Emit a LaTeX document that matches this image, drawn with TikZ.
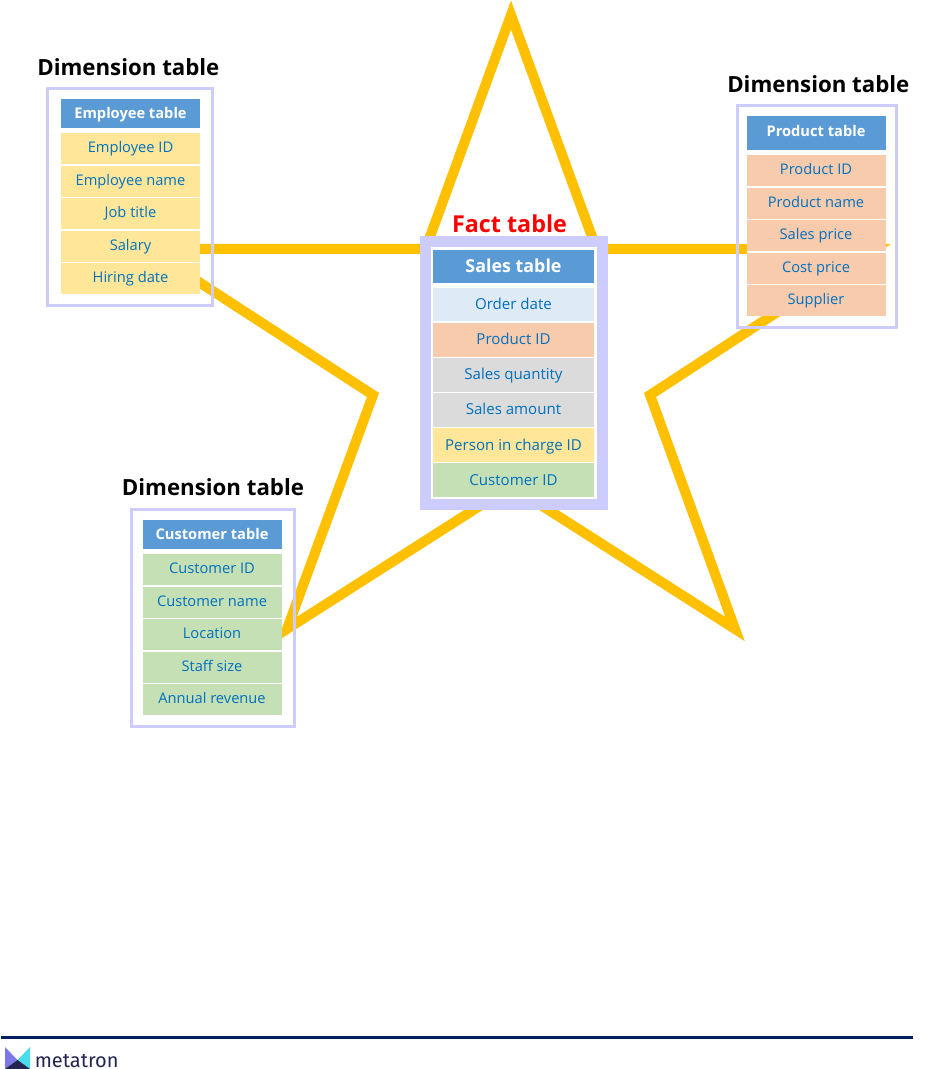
\documentclass[tikz,border=0pt]{standalone}
\usepackage{fontspec}
\usepackage{xcolor}
\usetikzlibrary{positioning,fit,backgrounds}
\setmainfont{Open Sans}
\newfontfamily\logofont{Fira Sans}
\definecolor{frameblue}{RGB}{204, 204, 255}
\definecolor{headerblue}{RGB}{91, 155, 213}
\definecolor{textblue}{RGB}{0, 112, 192}
\definecolor{staryellow}{RGB}{255, 192, 0}
\definecolor{rowyellow}{RGB}{255, 230, 153}
\definecolor{roworange}{RGB}{248, 203, 173}
\definecolor{rowgreen}{RGB}{197, 224, 180}
\definecolor{rowgray}{RGB}{219, 219, 219}
\definecolor{rowlight}{RGB}{222, 234, 246}
\definecolor{footnavy}{RGB}{0, 32, 96}
\definecolor{logopurple}{RGB}{123, 121, 232}
\definecolor{logocyan}{RGB}{74, 220, 235}
\definecolor{logodark}{RGB}{34, 37, 79}

\begin{document}
\begin{tikzpicture}[
    x=0.75pt, y=-0.75pt,
    node distance=1.2pt,
    dimhead/.style={rectangle, minimum width=104.25pt, minimum height=21.75pt, inner sep=0pt, outer sep=0pt, text centered, text height=9.5pt, text depth=1.5pt, fill=headerblue, text=white, font=\fontsize{11}{13}\selectfont\bfseries},
    dimrow/.style={rectangle, minimum width=104.25pt, minimum height=23.25pt, inner sep=0pt, outer sep=0pt, text centered, text height=8.5pt, text depth=2.5pt, text=textblue, font=\fontsize{11}{13}\selectfont},
    facthead/.style={dimhead, minimum width=120.75pt, minimum height=24.75pt, text height=11pt, text depth=2pt, font=\fontsize{13.4}{15}\selectfont\bfseries},
    factrow/.style={dimrow, minimum width=120.75pt, minimum height=25.1pt, text height=9.25pt, text depth=1.75pt, font=\fontsize{11.3}{13}\selectfont},
    backing/.style={rectangle, fill=white, inner sep=0pt},
    dimframe/.style={rectangle, draw=frameblue, line width=2.25pt, inner ysep=8pt},
    factframe/.style={rectangle, draw=frameblue, fill=white, line width=8.25pt, inner sep=6pt},
    tabletitle/.style={inner sep=0pt, font=\fontsize{16.7}{18}\selectfont\bfseries},
    starline/.style={draw=staryellow, line width=7.5pt, line join=miter}
]
\useasboundingbox (0,0) rectangle (928,1069);

% Fact table
\node[facthead] (sales) at (513.5,266.5) {Sales table};
\node[factrow, fill=rowlight, below=3.75pt of sales] (order) {Order date};
\node[factrow, fill=roworange, below=of order] (prod) {Product ID};
\node[factrow, fill=rowgray, below=of prod] (qty) {Sales quantity};
\node[factrow, fill=rowgray, below=of qty] (amount) {Sales amount};
\node[factrow, fill=rowyellow, below=of amount] (person) {Person in charge ID};
\node[factrow, fill=rowgreen, below=of person] (cust) {Customer ID};

% Employee table
\node[dimhead] (emp) at (130.5,113.5) {Employee table};
\node[dimrow, fill=rowyellow, below=3.75pt of emp] (emp1) {Employee ID};
\node[dimrow, fill=rowyellow, below=of emp1] (emp2) {Employee name};
\node[dimrow, fill=rowyellow, below=of emp2] (emp3) {Job title};
\node[dimrow, fill=rowyellow, below=of emp3] (emp4) {Salary};
\node[dimrow, fill=rowyellow, below=of emp4] (emp5) {Hiring date};

% Product table
\node[dimhead, minimum height=25.5pt, text height=8.5pt, text depth=2.5pt] (pro) at (816,133) {Product table};
\node[dimrow, fill=roworange, below=3.75pt of pro] (pro1) {Product ID};
\node[dimrow, fill=roworange, below=of pro1] (pro2) {Product name};
\node[dimrow, fill=roworange, below=of pro2] (pro3) {Sales price};
\node[dimrow, fill=roworange, below=of pro3] (pro4) {Cost price};
\node[dimrow, fill=roworange, below=of pro4] (pro5) {Supplier};

% Customer table
\node[dimhead] (cus) at (212,534.5) {Customer table};
\node[dimrow, fill=rowgreen, below=3.75pt of cus] (cus1) {Customer ID};
\node[dimrow, fill=rowgreen, below=of cus1] (cus2) {Customer name};
\node[dimrow, fill=rowgreen, below=of cus2] (cus3) {Location};
\node[dimrow, fill=rowgreen, below=of cus3] (cus4) {Staff size};
\node[dimrow, fill=rowgreen, below=of cus4] (cus5) {Annual revenue};

% Frames round the tables
\node[dimframe, inner xsep=9.4pt, xshift=-0.4pt, fit=(emp)(emp5)] (empframe) {};
\node[dimframe, inner xsep=7.6pt, xshift=0.75pt, fit=(pro)(pro5)] (proframe) {};
\node[dimframe, inner xsep=9.2pt, xshift=0.75pt, fit=(cus)(cus5)] (cusframe) {};

% Titles
\node[tabletitle, above=8pt of empframe, xshift=-1.2pt] (emptitle) {Dimension table};
\node[tabletitle, above=8pt of proframe, xshift=1pt] (protitle) {Dimension table};
\node[tabletitle, above=8.7pt of cusframe] (custitle) {Dimension table};

% Star and backings
\begin{scope}[on background layer]
\draw[starline] (511,15) -- (596.5,249) -- (874,249) -- (650,395) -- (735,629) -- (511,486) -- (287,629) -- (373,395) -- (148,249) -- (425.5,249) -- cycle;
\node[factframe, fit=(sales)(cust)] (factframe) {};
\node[backing, fit=(emp)(emp5)] (empback) {};
\node[backing, fit=(pro)(pro5)] (proback) {};
\node[backing, fit=(cus)(cus5)] (cusback) {};
\end{scope}

\node[tabletitle, text=red, above=3pt of factframe, xshift=-3pt, font=\fontsize{17.5}{19}\selectfont\bfseries] (facttitle) {Fact table};

% Footer
\draw[footnavy, line width=2.25pt] (1,1037.5) -- (913,1037.5);
\fill[logopurple] (5,1047) -- (17.5,1060) -- (5,1069) -- cycle;
\fill[logocyan] (30,1047) -- (17.5,1060) -- (30,1069) -- cycle;
\fill[logodark] (5,1069) -- (17.5,1060) -- (30,1069) -- cycle;
\node[anchor=base west, inner sep=0pt, text=logodark, font=\logofont\fontsize{15}{17}\selectfont] (logo) at (34.5,1067.5) {metatron};
\end{tikzpicture}
\end{document}
